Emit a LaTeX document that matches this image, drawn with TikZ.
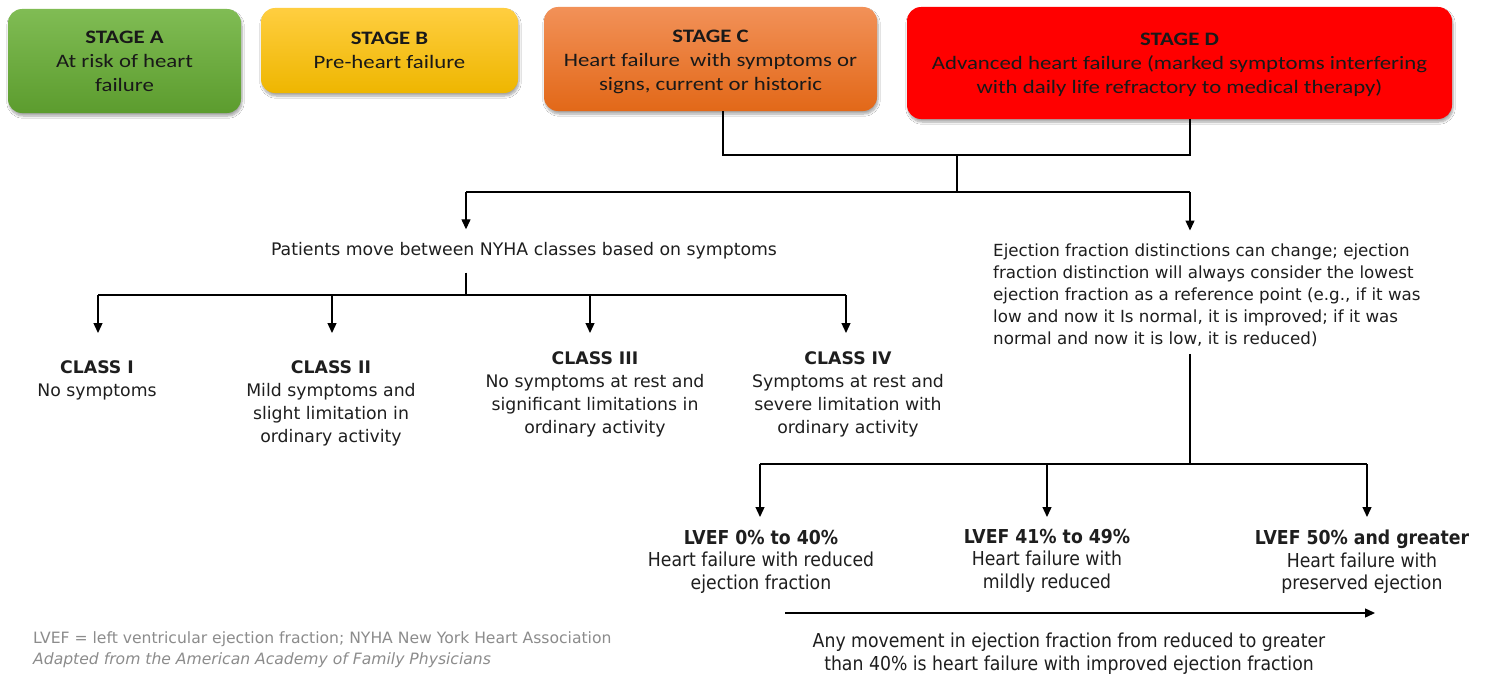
\documentclass[tikz,border=0pt]{standalone}
\usepackage{fontspec}
\setmainfont{DejaVu Sans}
\newfontfamily\stagefont[FakeStretch=1.2]{Carlito}
\newfontfamily\condfont[FakeStretch=0.9]{DejaVu Sans}
\usetikzlibrary{arrows.meta,shadows.blur}
\definecolor{gA1}{RGB}{128,188,84}
\definecolor{gA2}{RGB}{92,156,46}
\definecolor{gB1}{RGB}{255,206,64}
\definecolor{gB2}{RGB}{238,182,0}
\definecolor{gC1}{RGB}{242,145,88}
\definecolor{gC2}{RGB}{226,104,24}
\definecolor{gD}{RGB}{255,0,0}
\definecolor{txt}{RGB}{30,30,30}
\definecolor{note}{RGB}{140,140,140}
\begin{document}
\begin{tikzpicture}[x=1pt,y=-1pt,
 stagebox/.style={rounded corners=14pt, inner sep=0pt, align=center, text=black!90,
   font=\stagefont\fontsize{19}{24}\selectfont,
   blur shadow={shadow blur steps=8, shadow xshift=1pt, shadow yshift=-3pt, shadow opacity=35}},
 conn/.style={line width=1.3pt, draw=black},
 arr/.style={conn, -{Triangle[width=9pt,length=10pt]}},
 cls/.style={align=center, inner sep=0pt, anchor=north, text=txt, font=\fontsize{17.3}{23.3}\selectfont},
 lvef/.style={align=center, inner sep=0pt, anchor=north, text=txt, font=\condfont\fontsize{19.2}{22.5}\selectfont},
]
\useasboundingbox[fill=white] (0,0) rectangle (1489,677);

% stage boxes
\node[stagebox, top color=gA1, bottom color=gA2, minimum width=233pt, minimum height=104pt] (A) at (124.5,61)
  {\textbf{STAGE A}\\At risk of heart\\failure};
\node[stagebox, top color=gB1, bottom color=gB2, minimum width=257pt, minimum height=85pt] (B) at (389.5,50.5)
  {\textbf{STAGE B}\\Pre-heart failure};
\node[stagebox, top color=gC1, bottom color=gC2, minimum width=333pt, minimum height=104pt] (C) at (710.5,59)
  {\rule{0pt}{17.5pt}\textbf{STAGE C}\\Heart failure\ \ with symptoms or\\signs, current or historic};
\node[stagebox, fill=gD, minimum width=545pt, minimum height=112pt] (D) at (1179.5,63)
  {\rule{0pt}{16.5pt}\textbf{STAGE D}\\Advanced heart failure (marked symptoms interfering\\with daily life refractory to medical therapy)};

% text nodes
\node[inner ysep=13pt, inner xsep=0pt, text=txt, font=\fontsize{17.3}{20}\selectfont, text height=13pt, text depth=4pt] (pat) at (524,251)
  {Patients move between NYHA classes based on symptoms};
\node[anchor=north west, inner sep=0pt, align=left, text=txt, font=\fontsize{16.7}{22}\selectfont] (ej) at (993,243.5)
  {Ejection fraction distinctions can change; ejection\\fraction distinction will always consider the lowest\\ejection fraction as a reference point (e.g., if it was\\low and now it Is normal, it is improved; if it was\\normal and now it is low, it is reduced)};

\node[cls] (c1) at (97,360) {\textbf{CLASS I}\\No symptoms};
\node[cls] (c2) at (331,360) {\textbf{CLASS II}\\Mild symptoms and\\slight limitation in\\ordinary activity};
\node[cls] (c3) at (595,351) {\textbf{CLASS III}\\No symptoms at rest and\\significant limitations in\\ordinary activity};
\node[cls] (c4) at (848,351) {\textbf{CLASS IV}\\Symptoms at rest and\\severe limitation with\\ordinary activity};

\node[lvef] (l1) at (761,530) {\textbf{LVEF 0\% to 40\%}\\Heart failure with reduced\\ejection fraction};
\node[lvef] (l2) at (1047,529) {\textbf{LVEF 41\% to 49\%}\\Heart failure with\\mildly reduced};
\node[lvef] (l3) at (1362,530) {\textbf{LVEF 50\% and greater}\\Heart failure with\\preserved ejection};

\node[lvef] (mv) at (1069,633) {Any movement in ejection fraction from reduced to greater\\than 40\% is heart failure with improved ejection fraction};

\node[anchor=north west, inner sep=0pt, align=left, text=note, font=\fontsize{15.6}{21}\selectfont] (fn) at (33,631)
  {LVEF = left ventricular ejection fraction; NYHA New York Heart Association\\\textit{Adapted from the American Academy of Family Physicians}};

% connectors
\coordinate (jC) at (723,155);
\coordinate (jD) at (1190,155);
\coordinate (jM) at (957,155);
\coordinate (jM2) at (957,192);
\coordinate (jL) at (466,192);
\coordinate (jR) at (1190,192);
\draw[conn] (C.south -| jC) -- (jC) -- (jD) -- (D.south -| jD);
\draw[conn] (jM) -- (jM2);
\draw[conn] (jL) -- (jR);
\draw[arr] (jL) -- (jL |- pat.north);
\draw[arr, shorten >=13pt] (jR) -- (jR |- ej.north);

\coordinate (jP) at (466,295);
\coordinate (k1) at (98,295);
\coordinate (k2) at (332,295);
\coordinate (k3) at (590,295);
\coordinate (k4) at (846,295);
\draw[conn] (pat.south -| jP) -- (jP);
\draw[conn] (k1) -- (k4);
\draw[arr, shorten >=27pt] (k1) -- (k1 |- c1.north);
\draw[arr, shorten >=27pt] (k2) -- (k2 |- c2.north);
\draw[arr, shorten >=18pt] (k3) -- (k3 |- c3.north);
\draw[arr, shorten >=18pt] (k4) -- (k4 |- c4.north);

\coordinate (e0) at (1190,464);
\coordinate (e1) at (760,464);
\coordinate (e2) at (1047,464);
\coordinate (e3) at (1367,464);
\draw[conn, shorten <=7pt] (ej.south -| e0) -- (e0);
\draw[conn] (e1) -- (e3);
\draw[arr, shorten >=13pt] (e1) -- (e1 |- l1.north);
\draw[arr, shorten >=12pt] (e2) -- (e2 |- l2.north);
\draw[arr, shorten >=13pt] (e3) -- (e3 |- l3.north);

\coordinate (b1) at (785,613);
\coordinate (b2) at (1375,613);
\draw[arr] (b1) -- (b2);
\end{tikzpicture}
\end{document}
